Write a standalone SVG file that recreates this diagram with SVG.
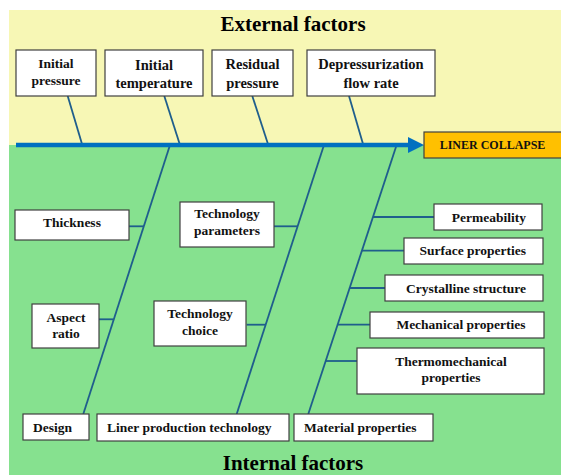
<svg xmlns="http://www.w3.org/2000/svg" width="561" height="475" viewBox="0 0 561 475">
<style>
.box{fill:#ffffff;stroke:#404040;stroke-width:1.2}
.t{font-family:"Liberation Serif","Times New Roman",serif;font-weight:bold;font-size:13.5px;fill:#111111}
.tl{font-size:14.5px}
.c{text-anchor:middle}
.r{text-anchor:end}
.title{font-family:"Liberation Serif","Times New Roman",serif;font-weight:bold;font-size:21px;fill:#000000;text-anchor:middle}
.bone{stroke:#1F5E8C;stroke-width:1.8;fill:none}
</style>
<rect x="0" y="0" width="561" height="475" fill="#ffffff"/>
<rect x="9" y="10" width="552" height="135" fill="#F7F7B5"/>
<rect x="9" y="145" width="552" height="330" fill="#86E18F"/>
<text class="title" x="293" y="31">External factors</text>
<text class="title" x="293" y="470">Internal factors</text>
<g id="connectors">
<line class="bone" x1="67.7" y1="96" x2="82.3" y2="145"/>
<line class="bone" x1="164.3" y1="96" x2="180" y2="145"/>
<line class="bone" x1="252.3" y1="96" x2="268.3" y2="145"/>
<line class="bone" x1="349" y1="96" x2="363.3" y2="145"/>
<line class="bone" x1="170" y1="145" x2="83.3" y2="414"/>
<line class="bone" x1="324" y1="145" x2="236.7" y2="414"/>
<line class="bone" x1="396.6" y1="145" x2="308.3" y2="414"/>
<line class="bone" x1="129" y1="226.3" x2="143.8" y2="226.3"/>
<line class="bone" x1="99" y1="319.3" x2="113.8" y2="319.3"/>
<line class="bone" x1="274" y1="226.3" x2="297.6" y2="226.3"/>
<line class="bone" x1="246.7" y1="324.7" x2="265.7" y2="324.7"/>
<line class="bone" x1="373" y1="217" x2="434" y2="217"/>
<line class="bone" x1="361.9" y1="250.7" x2="404" y2="250.7"/>
<line class="bone" x1="349.7" y1="288" x2="385" y2="288"/>
<line class="bone" x1="337.6" y1="324.7" x2="370" y2="324.7"/>
<line class="bone" x1="325.7" y1="361" x2="357" y2="361"/>
<line x1="16" y1="145" x2="409" y2="145" stroke="#0070C0" stroke-width="4.5"/>
<polygon points="408,137 424,145 408,153" fill="#0070C0"/>
</g>
<g id="liner-collapse">
<rect x="424" y="132" width="140" height="26" fill="#FFC000" stroke="#404040" stroke-width="1.2"/>
<text class="t c" x="492.5" y="149" style="font-size:12px">LINER COLLAPSE</text>
</g>
<g id="initial-pressure">
<rect class="box" x="16" y="50" width="80" height="46"/>
<text class="t c" x="56" y="68.3">Initial</text>
<text class="t c" x="56" y="85">pressure</text>
</g>
<g id="initial-temperature">
<rect class="box" x="105" y="50" width="98" height="46"/>
<text class="t tl c" x="154" y="70">Initial</text>
<text class="t tl c" x="154" y="88">temperature</text>
</g>
<g id="residual-pressure">
<rect class="box" x="212" y="50" width="81" height="46"/>
<text class="t tl c" x="252.5" y="69">Residual</text>
<text class="t tl c" x="252.5" y="87.5">pressure</text>
</g>
<g id="depressurization-flow-rate">
<rect class="box" x="307" y="50" width="128" height="46"/>
<text class="t tl c" x="371" y="69.3">Depressurization</text>
<text class="t tl c" x="371" y="87.5">flow rate</text>
</g>
<g id="thickness">
<rect class="box" x="15" y="210" width="114" height="30"/>
<text class="t c" x="72" y="227.3">Thickness</text>
</g>
<g id="aspect-ratio">
<rect class="box" x="32" y="304" width="67" height="44"/>
<text class="t c" x="66" y="321.7">Aspect</text>
<text class="t c" x="66" y="337.5">ratio</text>
</g>
<g id="design">
<rect class="box" x="23" y="414" width="66" height="26"/>
<text class="t" x="33" y="431.7">Design</text>
</g>
<g id="technology-parameters">
<rect class="box" x="180" y="202" width="94" height="45"/>
<text class="t c" x="227" y="218.3">Technology</text>
<text class="t c" x="227" y="234.5">parameters</text>
</g>
<g id="technology-choice">
<rect class="box" x="154" y="301" width="92" height="45"/>
<text class="t c" x="200" y="318">Technology</text>
<text class="t c" x="200" y="335">choice</text>
</g>
<g id="liner-production-technology">
<rect class="box" x="97" y="414" width="192" height="27"/>
<text class="t" x="107" y="432">Liner production technology</text>
</g>
<g id="permeability">
<rect class="box" x="434" y="204" width="108" height="26"/>
<text class="t r" x="526" y="221.7">Permeability</text>
</g>
<g id="surface-properties">
<rect class="box" x="404" y="238" width="139" height="26"/>
<text class="t r" x="526" y="255.3">Surface properties</text>
</g>
<g id="crystalline-structure">
<rect class="box" x="385" y="275" width="158" height="26"/>
<text class="t r" x="526" y="292.7">Crystalline structure</text>
</g>
<g id="mechanical-properties">
<rect class="box" x="370" y="312" width="174" height="26"/>
<text class="t r" x="525.5" y="329">Mechanical properties</text>
</g>
<g id="thermomechanical-properties">
<rect class="box" x="357" y="348" width="187" height="46"/>
<text class="t c" x="451" y="365.7">Thermomechanical</text>
<text class="t c" x="451" y="382.3">properties</text>
</g>
<g id="material-properties">
<rect class="box" x="294" y="414" width="139" height="27"/>
<text class="t" x="304" y="432">Material properties</text>
</g>
</svg>
